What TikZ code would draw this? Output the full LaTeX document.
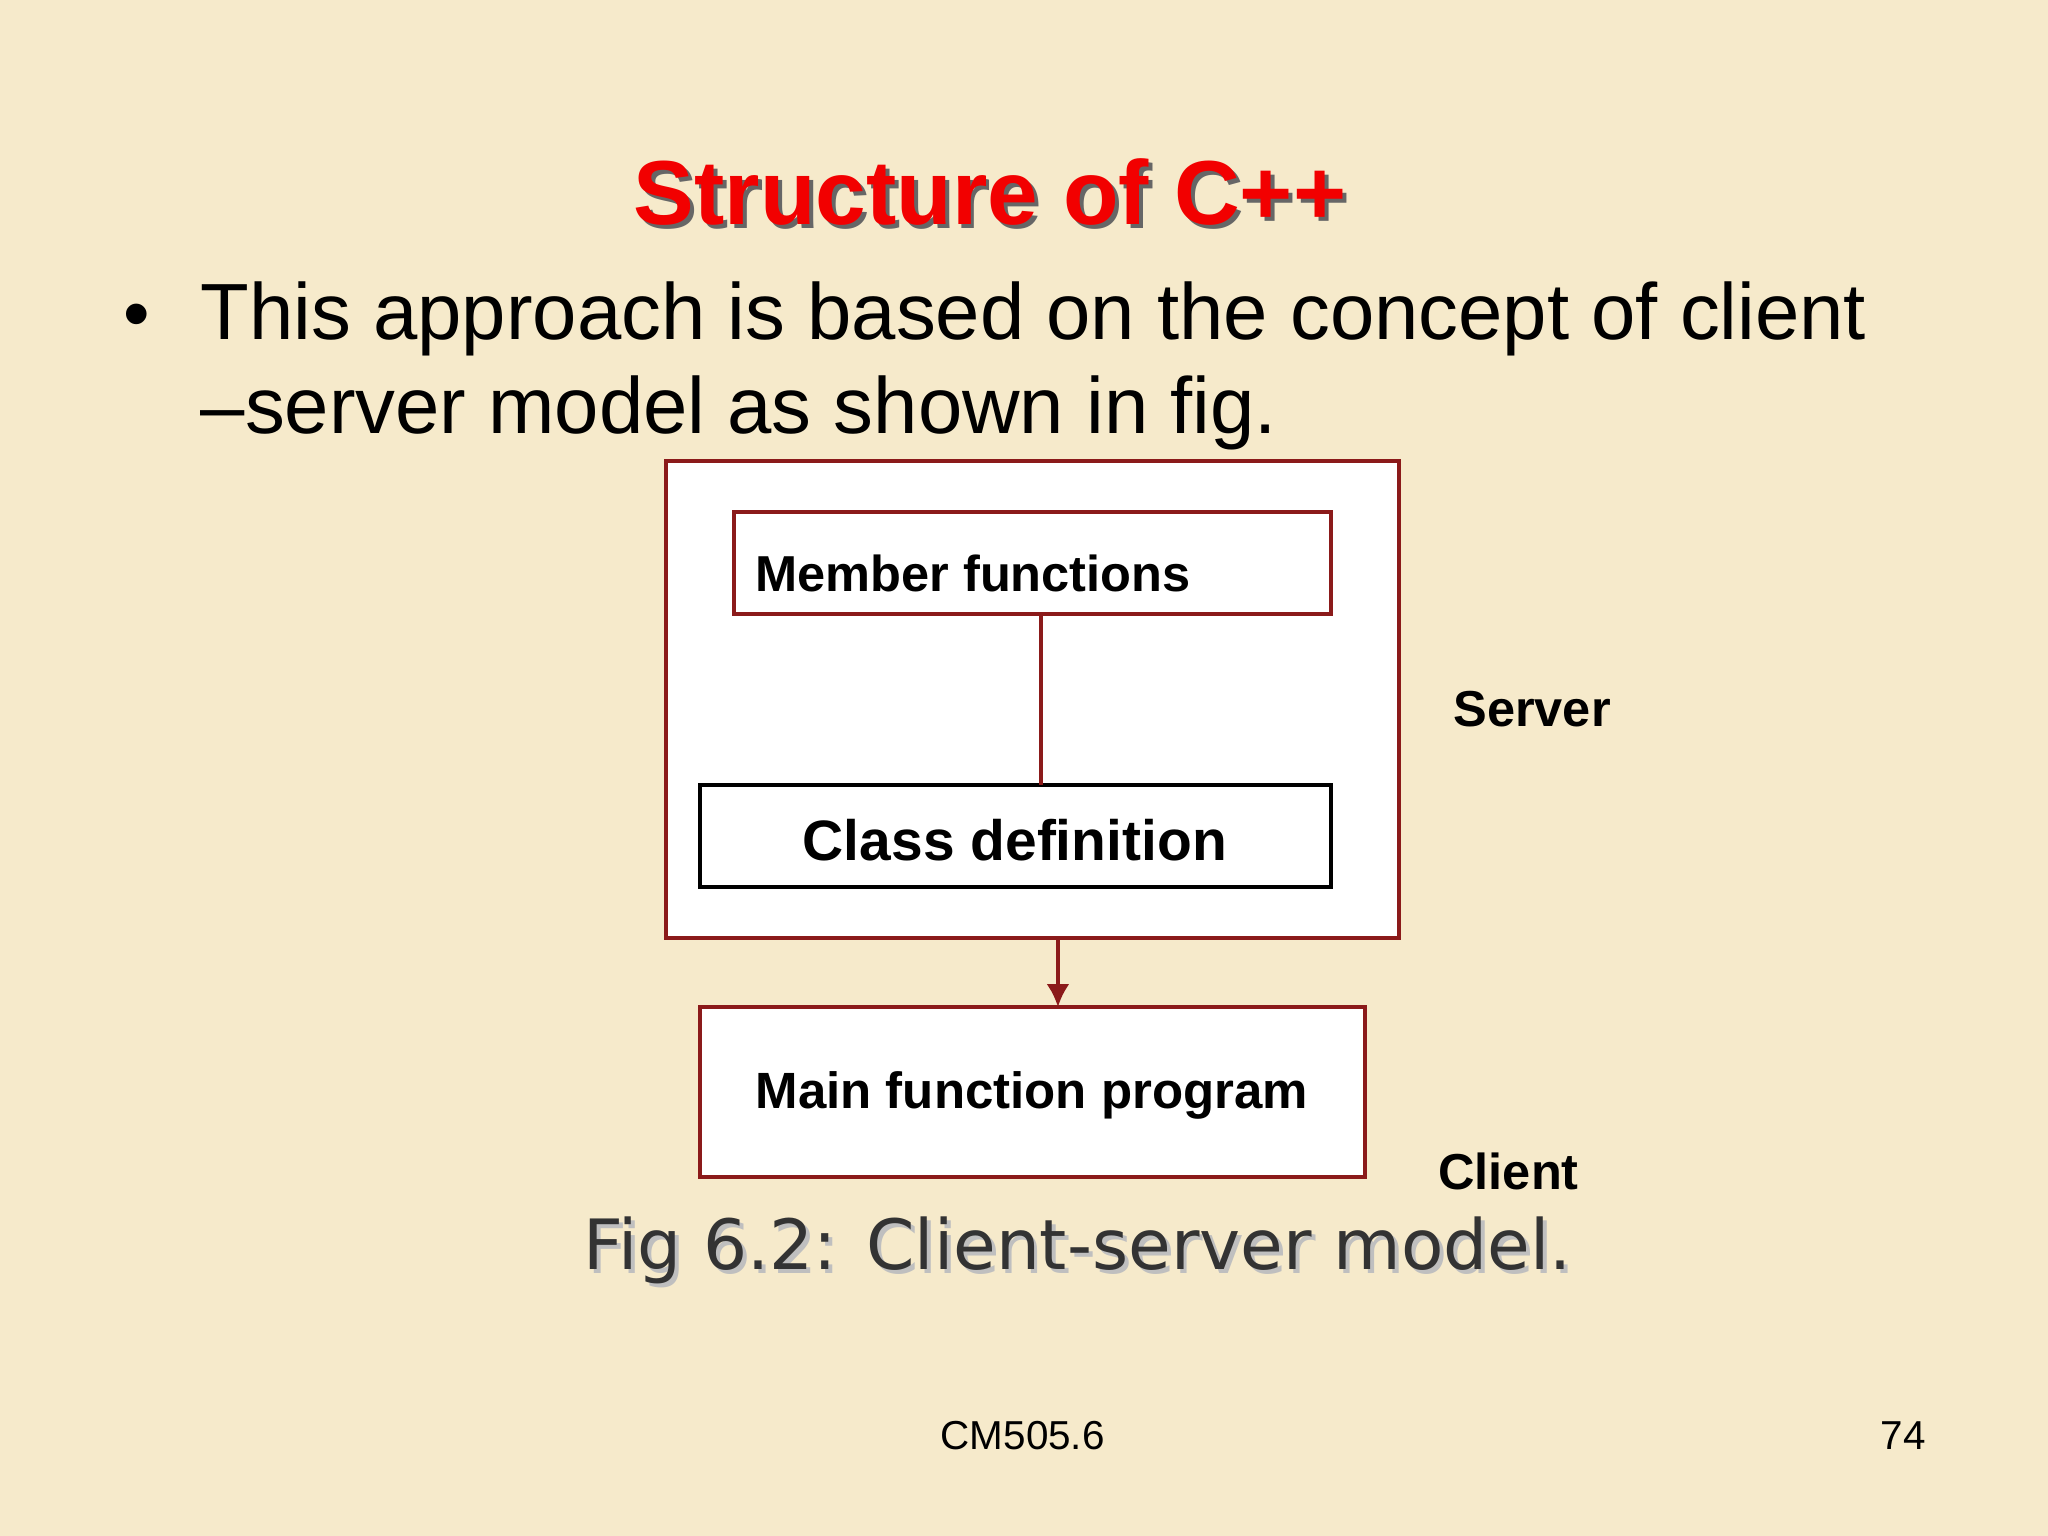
\documentclass[tikz,border=0pt]{standalone}
\usepackage{fontspec}
\usetikzlibrary{arrows.meta}
\setmainfont{Liberation Sans}
\newfontfamily\capfont{DejaVu Sans}
\definecolor{bg}{HTML}{F6EACB}
\definecolor{dred}{HTML}{8B1A1A}
\tikzset{
  box/.style={draw=dred,fill=white,line width=0.9pt},
  lbl/.style={font=\bfseries\fontsize{11}{13}\selectfont},
  conn/.style={draw=dred,line width=0.8pt}
}
\begin{document}
\begin{tikzpicture}[x=0.01cm,y=-0.01cm]
\fill[bg] (0,0) rectangle (1568,1176);
\useasboundingbox (0,0) rectangle (1568,1176);
% title with shadow
\node[text=black!60,font=\bfseries\fontsize{19.8}{24}\selectfont] at (761,150) {Structure of C++};
\node (title) [text=red!95!black,font=\bfseries\fontsize{19.8}{24}\selectfont] at (758,147) {Structure of C++};
% bullet
\node (bul) [anchor=base,font=\fontsize{16.5}{20}\selectfont] at (105,260) {•};
\node (t1) [anchor=base west,inner sep=0,font=\fontsize{17.35}{20}\selectfont] at (153,260) {This approach is based on the concept of client};
\node (t2) [anchor=base west,inner sep=0,font=\fontsize{17.35}{20}\selectfont] at (153,332) {–server model as shown in fig.};
% boxes
\draw[box] (510,353) rectangle (1071,718);
\coordinate (outer) at (810,718);
\draw[box] (562,392) rectangle (1019,470);
\node (mf) [lbl,anchor=west] at (566,439) {Member functions};
\coordinate (mfb) at (797,470);
\draw[black,fill=white,line width=0.9pt] (536,601) rectangle (1019,679);
\coordinate (cdt) at (797,601);
\node (cd) [font=\bfseries\fontsize{12.4}{15}\selectfont] at (777,643) {Class definition};
\draw[conn] (mfb) -- (cdt);
\draw[box] (536,771) rectangle (1045,901);
\coordinate (mft) at (810,771);
\node (mfp) [font=\bfseries\fontsize{11.1}{13}\selectfont] at (790,839) {Main function program};
\draw[conn,-{Latex[length=5pt,width=5pt]}] (outer) -- (mft);
\node (srv) [lbl] at (1173,543) {Server};
\node (cli) [lbl] at (1155,897) {Client};
% caption
\node[text=black!25,font=\capfont\fontsize{15.1}{18}\selectfont] at (828,960) {Fig 6.2: Client-server model.};
\node (cap) [text=black!80,font=\capfont\fontsize{15.1}{18}\selectfont] at (825,957) {Fig 6.2: Client-server model.};
\node (cm) [font=\fontsize{8.8}{10}\selectfont] at (783,1099) {CM505.6};
\node (pg) [font=\fontsize{8.8}{10}\selectfont] at (1457,1099) {74};
\end{tikzpicture}
\end{document}
